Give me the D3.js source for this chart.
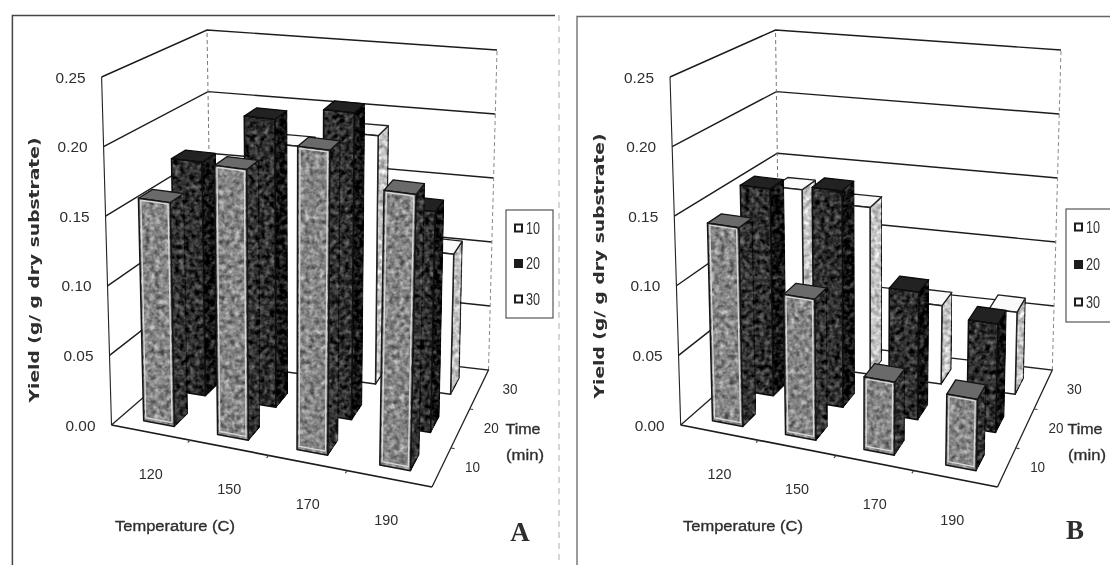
<!DOCTYPE html>
<html>
<head>
<meta charset="utf-8">
<script src="https://cdn.jsdelivr.net/npm/d3@7"></script>
<style>
  html, body { margin: 0; padding: 0; background: #fff; }
  svg { display: block; }
  text { fill: #2e2e2e; }
</style>
</head>
<body>
<div id="chart"></div>
<script>
const temperatures = [120, 150, 170, 190];
const times = [10, 20, 30];
const yieldTicks = [0, 0.05, 0.1, 0.15, 0.2, 0.25];

const yieldA10 = [0.161, 0.192, 0.213, 0.19];
const yieldA20 = [0.175, 0.213, 0.224, 0.159];
const yieldA30 = [0.14, 0.176, 0.19, 0.106];

const yieldB10 = [0.143, 0.1, 0.051, 0.049];
const yieldB20 = [0.155, 0.16, 0.093, 0.078];
const yieldB30 = [0.137, 0.129, 0.06, 0.062];

const width = 1110;
const height = 565;
const sans = "Liberation Sans";

const svg = d3.select("#chart").append("svg")
  .attr("width", width)
  .attr("height", height)
  .attr("viewBox", `0 0 ${width} ${height}`);

const defs = svg.append("defs");

const soften = defs.append("filter").attr("id", "soften")
  .attr("x", 0).attr("y", 0).attr("width", 1).attr("height", 1);
soften.append("feGaussianBlur").attr("stdDeviation", 0.6);

// print grain on the bar faces
const mottle = defs.append("filter").attr("id", "mottle")
  .attr("x", 0).attr("y", 0).attr("width", 1).attr("height", 1)
  .attr("color-interpolation-filters", "sRGB");
mottle.append("feTurbulence")
  .attr("type", "fractalNoise").attr("baseFrequency", 0.2)
  .attr("numOctaves", 2).attr("seed", 4).attr("result", "noise");
mottle.append("feColorMatrix").attr("in", "noise").attr("type", "matrix")
  .attr("values", "1 1 0 0 -0.5  1 1 0 0 -0.5  1 1 0 0 -0.5  0 0 0 0 1")
  .attr("result", "grain");
mottle.append("feComposite").attr("in", "grain").attr("in2", "SourceGraphic")
  .attr("operator", "arithmetic")
  .attr("k1", 0).attr("k2", 0.5).attr("k3", 1).attr("k4", -0.25)
  .attr("result", "mixed");
mottle.append("feComposite").attr("in", "mixed").attr("in2", "SourceAlpha").attr("operator", "in");

const page = svg.append("g").attr("filter", "url(#soften)");
page.append("rect").attr("width", width).attr("height", height).attr("fill", "#fff");

const valueScale = d3.scaleLinear().domain([0, 0.25]).range([0, 1]);
const tempScale = d3.scaleBand().domain(temperatures).range([0, 0.98]);
const timeScale = d3.scaleBand().domain(times).range([0, 1]);
// bars do not sit exactly on the label slots, spacing opens up towards the viewer
const perspective = d3.scalePow().exponent(1.1).domain([0, 0.98]).range([0.02, 1]);

const barWidth = 0.097;
const barDepth = 0.14;

// face colours per series
const faces = {
  10: { front: "#858585", side: "#333", top: "#6a6a6a", line: "#141414", edge: "#d8d8d8", grain: true },
  20: { front: "#2f2f2f", side: "#121212", top: "#222", line: "#0a0a0a", edge: null, grain: true },
  30: { front: "#fff", side: "#c4c4c4", top: "#fafafa", line: "#222", edge: null, grain: false }
};

const panels = [
  {
    name: "A",
    series: [yieldA10, yieldA20, yieldA30],
    floor: [[111.5, 425], [432, 487], [488.5, 370], [212, 338]],
    roof: [[101.6, 77], [441, 117], [497, 50], [207, 30]],
    yTitle: [34, 270],
    tempTitle: [175, 525],
    timeTitle: [523, 428],
    letter: [520, 532],
    legend: { x: 506, y: 210, w: 47, h: 108, gap: 35.5 }
  },
  {
    name: "B",
    series: [yieldB10, yieldB20, yieldB30],
    floor: [[680.7, 425], [997.5, 487], [1052.3, 370], [780, 338]],
    roof: [[670, 77], [1006, 117], [1061, 50], [775.5, 30]],
    yTitle: [599, 266],
    tempTitle: [743, 525],
    timeTitle: [1085, 428],
    letter: [1075, 530],
    legend: { x: 1066, y: 209, w: 60, h: 113, gap: 37.5 }
  }
];

function makeProject(panel) {
  const mix = (a, b, t) => [a[0] + (b[0] - a[0]) * t, a[1] + (b[1] - a[1]) * t];
  const level = (c, u, v) => mix(mix(c[0], c[1], u), mix(c[3], c[2], u), v);
  return (u, v, h) => mix(level(panel.floor, u, v), level(panel.roof, u, v), h);
}

function poly(parent, pts, fill, stroke, sw) {
  return parent.append("polygon")
    .attr("points", pts.map((p) => p.join(",")).join(" "))
    .attr("fill", fill)
    .attr("stroke", stroke)
    .attr("stroke-width", sw)
    .attr("stroke-linejoin", "round");
}

function line(parent, pts, stroke, sw, dash) {
  const node = parent.append("path")
    .attr("d", d3.line()(pts))
    .attr("fill", "none")
    .attr("stroke", stroke)
    .attr("stroke-width", sw);
  if (dash) {
    node.attr("stroke-dasharray", dash);
  }
  return node;
}

function label(parent, x, y, value, size, fit, anchor) {
  const node = parent.append("text")
    .attr("x", x)
    .attr("y", y)
    .attr("text-anchor", anchor || "middle")
    .attr("dominant-baseline", "central")
    .attr("font-size", size)
    .attr("font-family", sans)
    .text(value);
  if (fit) {
    node.attr("textLength", fit).attr("lengthAdjust", "spacingAndGlyphs");
  }
  return node;
}

function drawBar(g, project, face, mid, back, h) {
  const u0 = mid - barWidth / 2;
  const u1 = mid + barWidth / 2;
  const v0 = back - barDepth / 2;
  const v1 = back + barDepth / 2;
  const frontPts = [project(u0, v0, 0), project(u1, v0, 0), project(u1, v0, h), project(u0, v0, h)];

  poly(g, [project(u1, v0, 0), project(u1, v1, 0), project(u1, v1, h), project(u1, v0, h)],
    face.side, face.line, 1.2).attr("filter", "url(#mottle)");
  poly(g, [project(u0, v0, h), project(u1, v0, h), project(u1, v1, h), project(u0, v1, h)],
    face.top, face.line, 1.3);
  const front = poly(g, frontPts, face.front, "none", 0);
  if (face.grain) {
    front.attr("filter", "url(#mottle)");
  }
  if (face.edge) {
    const inset = 0.007;
    const hh = h - 0.005;
    const inner = [project(u0 + inset, v0, 0.01), project(u1 - inset, v0, 0.01), project(u1 - inset, v0, hh), project(u0 + inset, v0, hh)];
    poly(g, inner, "none", face.edge, 1.3);
  }
  poly(g, frontPts, "none", face.line, 1.5);
}

function drawPanel(panel) {
  const g = page.append("g").attr("class", `panel-${panel.name}`);
  const project = makeProject(panel);

  // walls
  yieldTicks.slice(1).forEach((tick) => {
    const h = valueScale(tick);
    line(g, [project(0, 0, h), project(0, 1, h), project(1, 1, h)], "#1c1c1c", 1.4);
  });
  line(g, [project(0, 1, 0), project(0, 1, 1)], "#777", 1, "4 3");
  line(g, [project(1, 1, 0), project(1, 1, 1)], "#888", 1, "4 3");
  line(g, [project(0, 0, 0), project(0, 0, 1)], "#222", 1.1);

  // floor
  line(g, [project(0, 1, 0), project(1, 1, 0), project(1, 0, 0)], "#222", 1.3);
  line(g, [project(0, 1, 0), project(0, 0, 0)], "#222", 1.3);
  line(g, [project(0, 0, 0), project(1, 0, 0)], "#1a1a1a", 1.7);

  temperatures.slice(1).forEach((t) => {
    const u = tempScale(t);
    line(g, [project(u, 0, 0), project(u, -0.025, 0)], "#444", 1.2);
  });
  times.slice(1).forEach((t) => {
    const v = timeScale(t);
    line(g, [project(1, v, 0), project(1.012, v, 0)], "#444", 1.2);
  });

  // bars, back row first
  times.slice().reverse().forEach((time) => {
    const values = panel.series[times.indexOf(time)];
    temperatures.forEach((temp, i) => {
      drawBar(g, project, faces[time],
        perspective(tempScale(temp) + tempScale.bandwidth() / 2),
        timeScale(time) + timeScale.bandwidth() / 2,
        valueScale(values[i]));
    });
  });

  // tick labels
  yieldTicks.forEach((tick) => {
    const p = project(0, 0, valueScale(tick));
    label(g, p[0] - 16, p[1], tick.toFixed(2), 15.5, 30, "end");
  });
  temperatures.forEach((t) => {
    const p = project(tempScale(t) + tempScale.bandwidth() / 2, 0, 0);
    label(g, p[0], p[1] + 41, t, 15, 24);
  });
  times.forEach((t) => {
    const p = project(1, timeScale(t) + timeScale.bandwidth() / 2, 0);
    label(g, p[0] + 31, p[1] - 1, t, 15, 15);
  });

  // titles
  const heavy = (node) => node.attr("stroke", "#2e2e2e").attr("stroke-width", 0.35);
  label(g, 0, 0, "Yield (g/ g dry substrate)", 13.5, 265)
    .attr("transform", `translate(${panel.yTitle[0]} ${panel.yTitle[1]}) rotate(-90)`)
    .attr("font-family", "DejaVu Sans")
    .attr("font-weight", "bold");
  heavy(label(g, panel.tempTitle[0], panel.tempTitle[1], "Temperature (C)", 15.5, 120));
  heavy(label(g, panel.timeTitle[0], panel.timeTitle[1], "Time", 15.5, 35));
  heavy(label(g, panel.timeTitle[0] + 2, panel.timeTitle[1] + 26, "(min)", 15.5, 38));
  label(g, panel.letter[0], panel.letter[1], panel.name, 27)
    .attr("font-family", "Liberation Serif")
    .attr("font-weight", "bold");

  // legend
  const lg = panel.legend;
  g.append("rect")
    .attr("x", lg.x).attr("y", lg.y).attr("width", lg.w).attr("height", lg.h)
    .attr("fill", "#fff").attr("stroke", "#555").attr("stroke-width", 1.2);
  times.forEach((t, i) => {
    const y = lg.y + 18 + i * lg.gap;
    g.append("rect")
      .attr("x", lg.x + 9).attr("y", y - 3.5).attr("width", 7).attr("height", 7)
      .attr("fill", t === 20 ? "#1a1a1a" : "#fff")
      .attr("stroke", "#1a1a1a").attr("stroke-width", 2);
    label(g, lg.x + 20, y, t, 16, 14, "start");
  });
}

// page frames
line(page, [[12.4, 565], [12.4, 15.5], [555, 15.5]], "#444", 1.5);
line(page, [[577, 565], [577, 16.5], [1110, 16.5]], "#666", 1.3);
line(page, [[559, 15], [559, 565]], "#bbb", 1.2, "6 5");

panels.forEach(drawPanel);
</script>
</body>
</html>
